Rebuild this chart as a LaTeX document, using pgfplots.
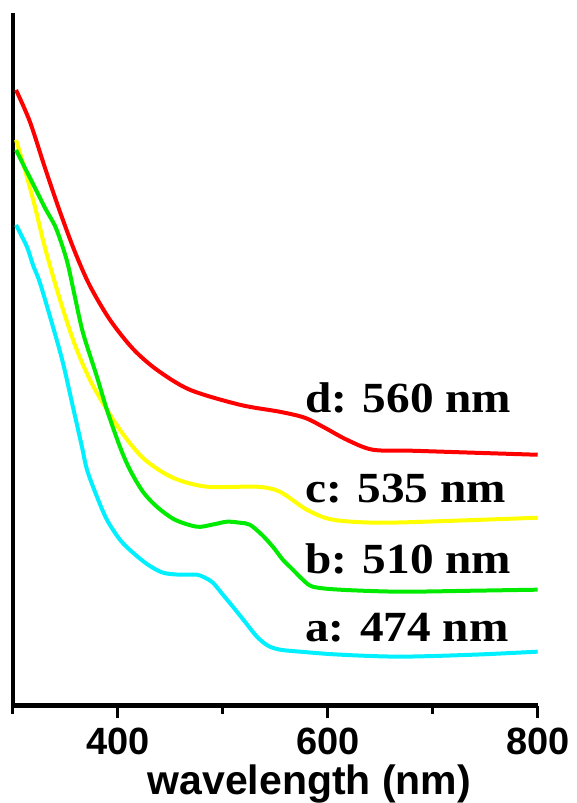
\documentclass[border=0pt]{standalone}
\usepackage{pgfplots}
\pgfplotsset{compat=1.18}
\usepackage{fontspec}
\setmainfont{Liberation Sans}
\newfontfamily\labserif[FakeStretch=1.1]{Liberation Serif}
\definecolor{cRed}{RGB}{255,0,0}
\definecolor{cYel}{RGB}{255,255,0}
\definecolor{cGrn}{RGB}{0,235,0}
\definecolor{cCya}{RGB}{0,240,255}
\begin{document}
\begin{tikzpicture}
\begin{axis}[
  scale only axis,
  width=262.5pt, height=346.5pt,
  xmin=300, xmax=800, ymin=0, ymax=693,
  axis x line=bottom, axis y line=left,
  axis line style={-, line width=2.2pt, black},
  xtick={400,600,800},
  minor xtick={300,500,700},
  ytick=\empty,
  tick align=outside,
  major tick length=6pt, minor tick length=4pt,
  every tick/.style={black, line width=1.5pt},
  /pgf/number format/assume math mode=true,
  /pgf/number format/1000 sep={},
  xticklabel style={font=\fontsize{19}{19}\selectfont\bfseries, yshift=-1.5pt},
  xlabel={wavelength (nm)},
  xlabel style={font=\fontsize{20.5}{20.5}\selectfont\bfseries, inner sep=0pt, yshift=-1.5pt, xshift=17pt},
  clip=false,
]
\addplot[cRed, line width=2pt, smooth, tension=0.5] coordinates {
(302.9,616)(316.2,584)(330.5,538)(344.8,494)(359.0,454)(373.3,420)(392.4,386)
(414.3,357)(437.1,336)(468.6,316)(516.2,301)(554.3,294)(578.1,288)(597.1,278)
(618.1,266)(642.9,256)(681,255)(740,253)(800,251)};
\addplot[cYel, line width=2pt, smooth, tension=0.5] coordinates {
(302.9,566)(311.4,536)(321.0,499)(330.5,458)(344.8,406)(359.0,361)(373.3,326)
(389.5,296)(406.7,269)(425.7,246)(452.4,228)(484.8,219)(532.4,219)(554.3,214)
(580.0,196)(604.8,186)(649.5,183)(720,185)(800,188)};
\addplot[cGrn, line width=2pt, smooth, tension=0.5] coordinates {
(302.9,556)(311.4,538)(321.0,518)(330.5,498)(340.0,480)(346.7,461)(352.4,441)
(359.0,409)(366.7,373)(380.0,329)(389.5,296)(401.9,259)(411.4,236)(423.8,214)
(437.1,199)(454.3,186)(475.2,179)(489.5,181)(503.8,184)(516.2,183)(525.7,181)
(537.1,171)(547.6,159)(557.1,146)(566.7,136)(576.2,126)(585.7,119)(611.4,116)
(668.6,114)(740,115)(800,116)};
\addplot[cCya, line width=2pt, smooth, tension=0.5] coordinates {
(302.9,481)(313.3,459)(319.0,441)(325.7,423)(338.1,379)(347.6,343)(357.1,299)
(365.7,259)(370.5,236)(380.0,209)(389.5,186)(401.9,166)(414.3,153)(428.6,141)
(442.9,133)(459.0,131)(475.2,131)(482.9,128)(490.5,123)(500.0,111)(509.5,99)
(521.0,84)(532.4,69)(542.9,60)(554.3,56)(573.3,54)(611.4,51)(668.6,49)
(740,51)(800,54)};
\node[anchor=base west, inner sep=0pt, font=\fontsize{21.5}{21.5}\selectfont\labserif\bfseries] at (axis cs:578,293) {d: 560 nm};
\node[anchor=base west, inner sep=0pt, font=\fontsize{21.5}{21.5}\selectfont\labserif\bfseries] at (axis cs:578,203) {c: 535 nm};
\node[anchor=base west, inner sep=0pt, font=\fontsize{21.5}{21.5}\selectfont\labserif\bfseries] at (axis cs:578,132) {b: 510 nm};
\node[anchor=base west, inner sep=0pt, font=\fontsize{21.5}{21.5}\selectfont\labserif\bfseries] at (axis cs:578,64) {a: 474 nm};
\end{axis}
\path (current axis.south west) ++(-6.5pt,-48.5pt) rectangle ([xshift=19pt,yshift=6.5pt]current axis.north east);
\end{tikzpicture}
\end{document}
